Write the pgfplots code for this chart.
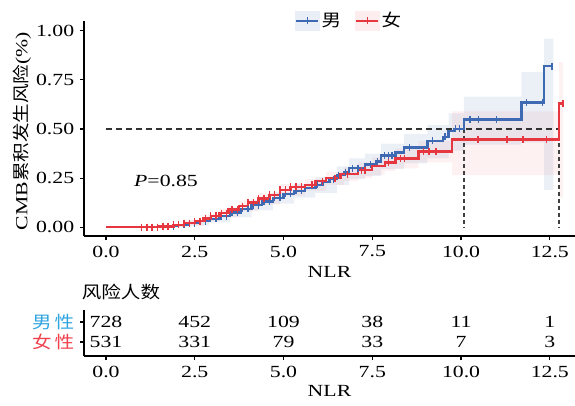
\documentclass[border=0pt]{standalone}
\usepackage{pgfplots}
\pgfplotsset{compat=1.18}
\usepgfplotslibrary{fillbetween}
\usepackage{fontspec}
\setmainfont{Liberation Serif}[FakeStretch=1.28]
\newfontfamily\cjk{Noto Sans CJK SC}[FakeStretch=1.15]

\definecolor{mblue}{HTML}{3D6AB3}
\definecolor{fred}{HTML}{E63640}
\definecolor{lblue}{HTML}{2FA4DF}
\definecolor{lred}{HTML}{F0414D}

% Kaplan-Meier steps
\pgfplotstableread{
x y
0 0
1.6 0.005
2.0 0.012
2.3 0.02
2.6 0.03
2.9 0.042
3.2 0.056
3.5 0.075
3.8 0.093
4.1 0.112
4.4 0.13
4.7 0.15
5.0 0.17
5.3 0.185
5.6 0.20
5.9 0.215
6.1 0.23
6.3 0.245
6.5 0.265
6.7 0.28
6.85 0.30
7.3 0.32
7.6 0.335
7.75 0.365
8.15 0.38
8.4 0.405
9.05 0.44
9.5 0.46
9.65 0.49
9.8 0.50
10.08 0.548
11.7 0.635
12.34 0.82
12.6 0.82
}\maleKM

\pgfplotstableread{
x y
0 0
1.5 0.004
1.9 0.012
2.2 0.02
2.5 0.03
2.75 0.045
2.95 0.058
3.2 0.072
3.45 0.09
3.75 0.107
4.0 0.125
4.3 0.145
4.6 0.165
4.9 0.19
5.2 0.205
5.6 0.215
5.9 0.235
6.2 0.25
6.6 0.27
7.1 0.29
7.5 0.31
7.85 0.33
8.15 0.35
8.8 0.385
9.75 0.447
12.76 0.63
12.87 0.63
}\femaleKM

% confidence bands
\pgfplotstableread{
x u l
0 0 0
1.6 0.012 0.0
2.3 0.035 0.008
2.9 0.06 0.025
3.5 0.10 0.05
4.1 0.14 0.085
4.7 0.18 0.12
5.3 0.22 0.15
5.9 0.255 0.175
6.5 0.31 0.215
6.85 0.35 0.245
7.3 0.375 0.26
7.75 0.425 0.295
8.4 0.475 0.325
9.05 0.52 0.35
9.65 0.58 0.39
10.08 0.665 0.42
11.7 0.79 0.43
12.34 0.96 0.19
12.6 0.96 0.19
}\maleCI

\pgfplotstableread{
x u l
0 0 0
1.5 0.01 0
2.2 0.035 0.008
2.75 0.065 0.028
3.2 0.095 0.05
3.75 0.135 0.08
4.3 0.175 0.115
4.9 0.22 0.16
5.6 0.245 0.185
6.2 0.28 0.215
6.7 0.305 0.235
7.1 0.33 0.25
7.5 0.355 0.265
7.85 0.375 0.285
8.15 0.40 0.30
8.8 0.44 0.33
9.75 0.59 0.265
12.76 0.84 0.15
12.87 0.84 0.15
}\femaleCI

% censored observations
\pgfplotstableread{
x y
1.0 0
1.15 0
1.3 0
1.45 0
1.6 0.005
1.75 0.005
1.9 0.005
2.05 0.012
2.2 0.012
2.35 0.02
2.5 0.02
2.65 0.03
2.8 0.03
2.95 0.042
3.1 0.042
3.25 0.056
3.4 0.056
3.55 0.075
3.7 0.075
3.85 0.093
4.0 0.093
4.15 0.112
4.3 0.112
4.45 0.13
4.6 0.13
4.75 0.15
4.9 0.15
5.05 0.17
5.2 0.17
5.35 0.185
5.5 0.185
5.95 0.215
6.4 0.245
6.55 0.265
6.75 0.28
6.95 0.30
7.1 0.30
7.45 0.32
7.65 0.335
7.85 0.365
7.95 0.365
8.05 0.365
8.55 0.405
9.2 0.44
9.55 0.46
9.85 0.50
9.95 0.50
10.25 0.548
10.5 0.548
11.0 0.548
11.85 0.635
12.3 0.635
12.56 0.82
}\maleCens

\pgfplotstableread{
x y
1.0 0
1.15 0
1.3 0
1.45 0
1.6 0.004
1.75 0.004
1.9 0.012
2.05 0.012
2.2 0.02
2.35 0.02
2.5 0.03
2.65 0.03
2.8 0.045
2.95 0.058
3.1 0.058
3.25 0.072
3.4 0.072
3.55 0.09
3.7 0.09
3.85 0.107
4.0 0.125
4.15 0.125
4.3 0.145
4.45 0.145
4.6 0.165
4.75 0.165
4.9 0.19
5.05 0.19
5.2 0.205
5.35 0.205
5.5 0.205
5.8 0.215
6.1 0.235
6.45 0.25
6.8 0.27
7.2 0.29
7.3 0.29
7.95 0.33
8.3 0.35
8.4 0.35
8.95 0.385
9.1 0.385
9.3 0.385
10.48 0.447
11.3 0.447
11.75 0.447
12.4 0.447
12.87 0.63
}\femaleCens

\begin{document}
\fontsize{17}{20}\selectfont
\begin{tikzpicture}

\begin{axis}[
    at={(84pt,169pt)}, anchor=south west,
    scale only axis, width=491pt, height=215pt,
    xmin=-0.62, xmax=13.21, ymin=-0.045, ymax=1.05,
    axis x line=bottom, axis y line=left,
    axis line style={-, line width=1.6pt},
    xtick={0,2.5,5,7.5,10,12.5}, ytick={0,0.25,0.5,0.75,1},
    tick align=outside, major tick length=4pt,
    tick style={line width=1.1pt, black},
    /pgf/number format/assume math mode=true,
    xticklabel style={/pgf/number format/fixed, /pgf/number format/fixed zerofill, /pgf/number format/precision=1},
    yticklabel style={/pgf/number format/fixed, /pgf/number format/fixed zerofill, /pgf/number format/precision=2},
    xlabel={NLR},
    xlabel style={yshift=3pt},
    legend style={at={(0.54,1.0)}, anchor=center, draw=none, fill=none,
        legend columns=2, /tikz/every even column/.append style={column sep=12pt}},
    legend cell align=left,
    clip=false,
]
% bands
\addplot[name path=mu, const plot, draw=none, forget plot] table[x=x, y=u] {\maleCI};
\addplot[name path=ml, const plot, draw=none, forget plot] table[x=x, y=l] {\maleCI};
\addplot[fill=mblue, fill opacity=0.10, draw=none, forget plot] fill between[of=mu and ml];
\addplot[name path=fu, const plot, draw=none, forget plot] table[x=x, y=u] {\femaleCI};
\addplot[name path=fl, const plot, draw=none, forget plot] table[x=x, y=l] {\femaleCI};
\addplot[fill=fred, fill opacity=0.07, draw=none, forget plot] fill between[of=fu and fl];

% median lines
\addplot[black!80, line width=1.2pt, dash pattern=on 6pt off 4pt, forget plot] coordinates {(0,0.5) (12.76,0.5)};
\addplot[black!75, line width=2pt, dash pattern=on 4pt off 3pt, forget plot] coordinates {(10.08,0.5) (10.08,0)};
\addplot[black!75, line width=2pt, dash pattern=on 4pt off 3pt, forget plot] coordinates {(12.76,0.5) (12.76,0)};

% curves
\addplot[mblue, line width=2.4pt, const plot, mark=none,
    legend image code/.code={
        \fill[mblue!11] (0pt,-9pt) rectangle (22pt,9pt);
        \draw[mblue, line width=2.4pt] (0pt,0pt) -- (22pt,0pt);
        \draw[mblue, line width=1.2pt] (11pt,-3.5pt) -- (11pt,3.5pt);}]
    table[x=x, y=y] {\maleKM};
\addlegendentry{\cjk 男}
\addplot[only marks, mark=|, mark size=3.5pt, mblue, mark options={line width=1.4pt}, forget plot] table[x=x, y=y] {\maleCens};

\addplot[fred, line width=2.4pt, const plot, mark=none,
    legend image code/.code={
        \fill[fred!9] (0pt,-9pt) rectangle (22pt,9pt);
        \draw[fred, line width=2.4pt] (0pt,0pt) -- (22pt,0pt);
        \draw[fred, line width=1.2pt] (11pt,-3.5pt) -- (11pt,3.5pt);}]
    table[x=x, y=y] {\femaleKM};
\addlegendentry{\cjk 女}
\addplot[only marks, mark=|, mark size=3.5pt, fred, mark options={line width=1.4pt}, forget plot] table[x=x, y=y] {\femaleCens};

\node at (axis cs:1.69,0.234) {\textit{P}=0.85};
\end{axis}

\node[rotate=90] at (22pt,274pt) {CMB{\cjk 累积发生风险}(\%)};

% risk table
\begin{axis}[
    at={(84pt,49pt)}, anchor=south west,
    scale only axis, width=491pt, height=46pt,
    xmin=-0.62, xmax=13.21, ymin=0.3, ymax=2.6,
    axis x line=bottom, axis y line=left,
    axis line style={-, line width=1.6pt},
    x axis line style={line width=2.4pt},
    xtick={0,2.5,5,7.5,10,12.5}, ytick={1,2},
    yticklabels={{\cjk\color{lred}女\,性}, {\cjk\color{lblue}男\,性}},
    tick align=outside, major tick length=4pt,
    tick style={line width=1.1pt, black},
    /pgf/number format/assume math mode=true,
    xticklabel style={/pgf/number format/fixed, /pgf/number format/fixed zerofill, /pgf/number format/precision=1},
    xlabel={NLR},
    xlabel style={yshift=4pt},
    title={\cjk 风险人数},
    title style={at={(0,1)}, anchor=south west, xshift=-8pt, yshift=-2pt},
    clip=false,
]
\addplot[mark=none, draw=none, nodes near coords, point meta=explicit symbolic,
    every node near coord/.append style={anchor=center}]
    coordinates {(0,2)[728] (2.5,2)[452] (5,2)[109] (7.5,2)[38] (10,2)[11] (12.5,2)[1]};
\addplot[mark=none, draw=none, nodes near coords, point meta=explicit symbolic,
    every node near coord/.append style={anchor=center}]
    coordinates {(0,1)[531] (2.5,1)[331] (5,1)[79] (7.5,1)[33] (10,1)[7] (12.5,1)[3]};
\end{axis}

\pgfresetboundingbox
\path[use as bounding box] (0pt,0pt) rectangle (575pt,405pt);
\end{tikzpicture}
\end{document}
